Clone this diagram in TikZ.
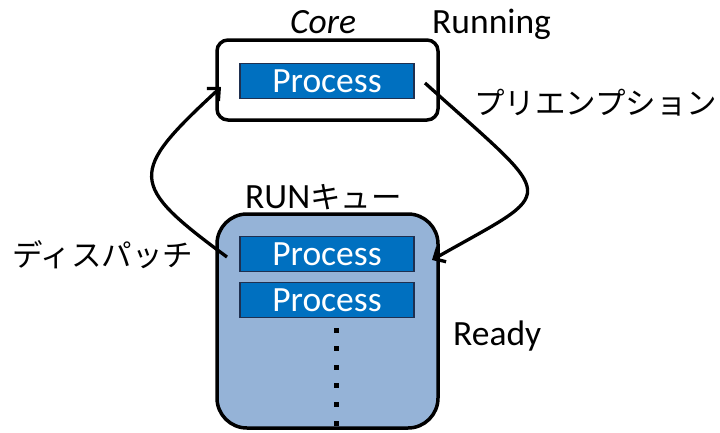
\documentclass[tikz,border=0pt]{standalone}
\usepackage{fontspec}
\setmainfont{Carlito}
\newfontfamily\jp{Noto Sans CJK JP}
\usetikzlibrary{arrows.meta}
\definecolor{queuefill}{HTML}{95B3D7}
\definecolor{procfill}{HTML}{0070C0}
\definecolor{procline}{HTML}{1F3050}
\tikzset{
  latin/.style={font=\fontsize{35.5}{40}\selectfont, inner sep=0pt},
  jtext/.style={font=\fontsize{30.5}{36}\selectfont\jp, inner sep=0pt},
  corebox/.style={draw=black, line width=3.5pt, rounded corners=11pt, minimum width=221pt, minimum height=80pt, inner sep=0pt},
  queuebox/.style={draw=black, fill=queuefill, line width=3.5pt, rounded corners=30pt, minimum width=221pt, minimum height=214pt, inner sep=0pt},
  procbox/.style={draw=procline, fill=procfill, line width=1.3pt, minimum width=174pt, minimum height=35pt, inner sep=0pt, text=white, font=\fontsize{35.5}{40}\selectfont},
  flow/.style={line width=3.3pt, -{Straight Barb[length=9pt,width=17pt,line width=3.3pt]}},
  qdot/.style={fill=black, minimum size=5pt, inner sep=0pt, draw=none}
}
\begin{document}
\begin{tikzpicture}[x=1pt,y=-1pt]
\useasboundingbox (0,0) rectangle (720,432);
% boxes
\node[corebox] (core) at (327.5,80) {};
\node[queuebox] (queue) at (327.5,321) {};
% processes
\node[procbox] (p0) at (327,81) {Process};
\node[procbox] (p1) at (327,254) {Process};
\node[procbox] (p2) at (327,300) {Process};
% dots
\foreach \i in {0,...,5} {
  \node[qdot] (d\i) at (336,{330+18.6*\i}) {};
}
% labels
\node[latin, anchor=base west] (corelbl) at (290,33) {\itshape Core};
\node[latin, anchor=base west] (running) at (432,33) {Running};
\node[jtext, anchor=west] (preempt) at (474,103) {プリエンプション};
\node[jtext, anchor=west] (dispatch) at (12,255) {ディスパッチ};
\node[latin, anchor=base west] (runq) at (245,208) {RUN{\jp\fontsize{30.5}{36}\selectfont キュー}};
\node[latin, anchor=base west] (ready) at (453,345) {Ready};
% arrows
\coordinate (dstart) at (227,257);
\coordinate (dend) at (221,87);
\coordinate (pstart) at (425,83);
\coordinate (pend) at (432,260);
\draw[flow] (dstart) .. controls (128,184) and (128,173) .. (dend);
\draw[flow] (pstart) .. controls (560,205) and (560,187) .. (pend);
\end{tikzpicture}
\end{document}
